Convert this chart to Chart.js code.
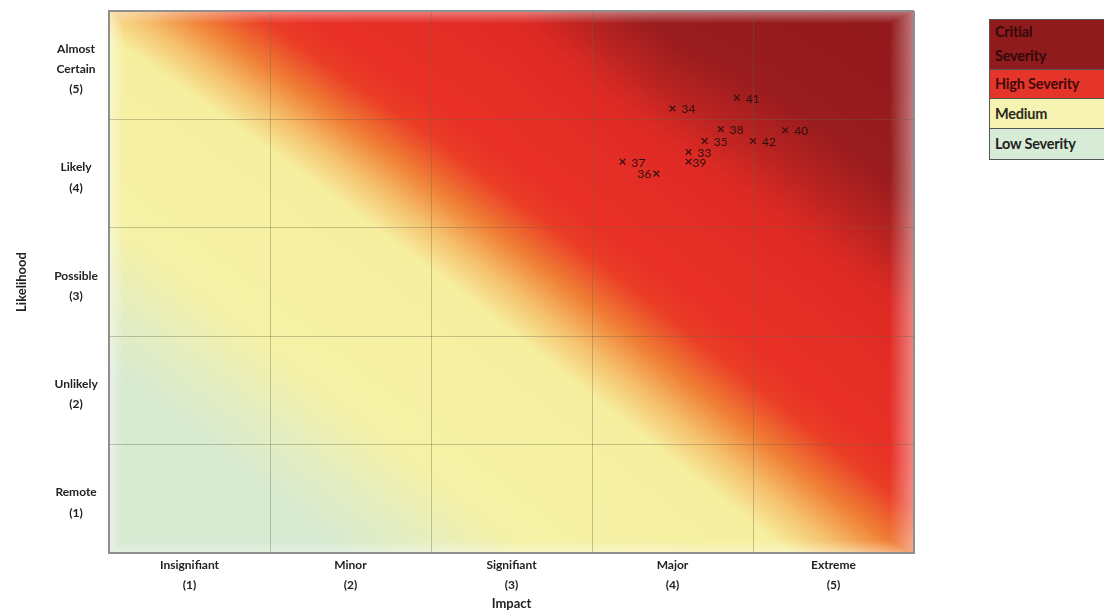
<!DOCTYPE html>
<html>
<head>
<meta charset="utf-8">
<script src="https://cdn.jsdelivr.net/npm/chart.js@4.4.1/dist/chart.umd.min.js"></script>
<style>
html,body{margin:0;padding:0;background:#fff;overflow:hidden;}
#wrap{position:relative;width:1104px;height:613px;overflow:hidden;}
#chart{position:absolute;left:0;top:0;}
#legend{position:absolute;left:989px;top:19px;width:130px;border:1.5px solid #555;font-family:Lato,"Open Sans",sans-serif;font-weight:bold;font-size:14.5px;letter-spacing:-0.2px;}
#legend .row{box-sizing:border-box;padding-left:5px;border-top:1.5px solid #555;}
#legend .row:first-child{border-top:none;}
</style>
</head>
<body>
<div id="wrap">
  <canvas id="chart" width="1104" height="613"></canvas>
  <div id="legend"></div>
</div>
<script>
// ---- data ----
const impactLabels = [['Insignifiant','(1)'],['Minor','(2)'],['Signifiant','(3)'],['Major','(4)'],['Extreme','(5)']];
const likelihoodLabels = [['Remote','(1)'],['Unlikely','(2)'],['Possible','(3)'],['Likely','(4)'],['Almost','Certain','(5)']];
const riskIds = ['41','34','38','40','35','42','33','37','39','36'];
const riskImpact = [4.40, 4.00, 4.30, 4.70, 4.20, 4.50, 4.10, 3.69, 4.10, 3.90];
const riskLikelihood = [4.70, 4.60, 4.41, 4.40, 4.30, 4.30, 4.20, 4.11, 4.11, 4.00];
// heat score per cell, rows = likelihood 1..5, columns = impact 1..5
const heatScore = [
  [1.9, 2.9, 3.9, 4.9, 5.9],
  [2.75, 3.75, 4.75, 5.75, 6.75],
  [3.6, 4.6, 5.6, 6.6, 7.6],
  [4.5, 5.5, 6.5, 7.5, 8.5],
  [5.45, 6.45, 7.35, 8.55, 9.35]
];
const legendNames = [['Critial','Severity'],['High Severity'],['Medium'],['Low Severity']];

// ---- styles ----
const labelSide = ['r','r','r','r','r','r','r','r','n','l'];
const legendColors = ['#8f1b1d','#e5352a','#f6f2b2','#d8ebd6'];
const legendTextColors = ['#320a0a','#420a0a','#2a2a1a','#222'];
const legendHeights = [49,29,30,31];
const rampStops = [
  [2.4,[214,233,209]],
  [3.0,[229,238,192]],
  [3.6,[245,241,166]],
  [5.2,[246,239,160]],
  [5.55,[245,192,108]],
  [5.9,[240,128,54]],
  [6.3,[234,62,38]],
  [6.6,[233,48,38]],
  [7.8,[222,42,36]],
  [8.3,[184,35,33]],
  [8.8,[154,28,30]],
  [10,[146,25,28]]
];

// legend
const lg = document.getElementById('legend');
legendNames.forEach((n,i)=>{
  const d = document.createElement('div');
  d.className='row';
  d.style.background = legendColors[i];
  d.style.color = legendTextColors[i];
  d.style.height = legendHeights[i]+'px';
  d.style.lineHeight = (n.length>1 ? 24 : legendHeights[i]-1)+'px';
  d.innerHTML = n.join('<br>');
  lg.appendChild(d);
});

function ramp(t){
  if (t<=rampStops[0][0]) return rampStops[0][1];
  for (let k=1;k<rampStops.length;k++){
    if (t<=rampStops[k][0]){
      const [t0,c0]=rampStops[k-1],[t1,c1]=rampStops[k];
      const f=(t-t0)/(t1-t0);
      return [c0[0]+(c1[0]-c0[0])*f,c0[1]+(c1[1]-c0[1])*f,c0[2]+(c1[2]-c0[2])*f];
    }
  }
  return rampStops[rampStops.length-1][1];
}
function sample(xv,yv){
  const fx=xv-1, fy=yv-1;
  const c0=Math.max(0,Math.min(3,Math.floor(fx))), r0=Math.max(0,Math.min(3,Math.floor(fy)));
  const u=fx-c0, w=fy-r0;
  const M=heatScore;
  return (1-u)*(1-w)*M[r0][c0]+u*(1-w)*M[r0][c0+1]+(1-u)*w*M[r0+1][c0]+u*w*M[r0+1][c0+1];
}

const heatPlugin = {
  id:'heat',
  beforeDraw(chart){
    const {ctx, chartArea:a, scales:{x,y}} = chart;
    const L=Math.round(a.left), T=Math.round(a.top);
    const w=Math.round(a.right)-L, h=Math.round(a.bottom)-T;
    const off=document.createElement('canvas'); off.width=w; off.height=h;
    const octx=off.getContext('2d');
    const img=octx.createImageData(w,h);
    const xs=[],ys=[];
    for(let i=0;i<w;i++) xs.push(x.getValueForPixel(L+i+0.5));
    for(let j=0;j<h;j++) ys.push(y.getValueForPixel(T+j+0.5));
    for(let j=0;j<h;j++){
      for(let i=0;i<w;i++){
        const c=ramp(sample(xs[i],ys[j]));
        let fa=0;
        const dr=w-1-i, dl=i, dt=j, db=h-1-j;
        if(dr<24) fa=Math.max(fa,0.42*(1-dr/24));
        if(dl<14) fa=Math.max(fa,0.45*(1-dl/14));
        if(dt<12) fa=Math.max(fa,0.38*(1-dt/12));
        if(db<12) fa=Math.max(fa,0.35*(1-db/12));
        const p=(j*w+i)*4;
        img.data[p]=c[0]+(255-c[0])*fa;
        img.data[p+1]=c[1]+(255-c[1])*fa;
        img.data[p+2]=c[2]+(255-c[2])*fa;
        img.data[p+3]=255;
      }
    }
    octx.putImageData(img,0,0);
    ctx.save();
    ctx.drawImage(off,L,T);
    ctx.restore();
  }
};

const labelPlugin = {
  id:'ptlabels',
  afterDatasetsDraw(chart){
    const {ctx}=chart;
    const meta=chart.getDatasetMeta(0);
    ctx.save();
    ctx.font='12px Lato, "Open Sans", sans-serif';
    ctx.fillStyle='#2b0f0f';
    ctx.textBaseline='middle';
    meta.data.forEach((el,i)=>{
      const s=labelSide[i];
      if(s==='l'){ctx.textAlign='right';ctx.fillText(riskIds[i],el.x-5,el.y+1);}
      else if(s==='n'){ctx.textAlign='left';ctx.fillText(riskIds[i],el.x+4,el.y+1);}
      else {ctx.textAlign='left';ctx.fillText(riskIds[i],el.x+9,el.y+1);}
    });
    ctx.restore();
  }
};

const halfTicks = [0.5,1,1.5,2,2.5,3,3.5,4,4.5,5,5.5];
function gridColor(c){
  const v=c.tick.value;
  if(v===0.5||v===5.5) return '#8f8f8f';
  return Number.isInteger(v)?'rgba(0,0,0,0)':'rgba(110,100,70,0.35)';
}
function gridWidth(c){
  const v=c.tick.value;
  return (v===0.5||v===5.5)?2:1;
}

Chart.defaults.font.family='Lato, "Open Sans", sans-serif';
Chart.defaults.color='#222';

new Chart(document.getElementById('chart'),{
  type:'scatter',
  data:{
    datasets:[{
      data: riskImpact.map((v,i)=>({x:v,y:riskLikelihood[i]})),
      pointStyle:'crossRot',
      pointRadius:4,
      pointHoverRadius:4,
      borderColor:'#3a1010',
      backgroundColor:'#3a1010',
      borderWidth:1.3
    }]
  },
  options:{
    responsive:false,
    animation:false,
    layout:{padding:{top:11,right:190,left:0,bottom:0}},
    plugins:{legend:{display:false},tooltip:{enabled:false}},
    scales:{
      x:{
        type:'linear',min:0.5,max:5.5,
        afterBuildTicks(s){s.ticks=halfTicks.map(v=>({value:v}));},
        afterFit(s){s.height=60;s.paddingLeft=0;s.paddingRight=0;},
        ticks:{autoSkip:false,maxRotation:0,padding:2,color:'#222',
          font:{size:12,weight:'bold',lineHeight:1.65},
          callback:(v)=>Number.isInteger(v)?impactLabels[v-1]:''},
        grid:{drawTicks:false,color:gridColor,lineWidth:gridWidth},
        border:{display:true,color:'#8f8f8f',width:2},
        title:{display:true,text:'Impact',color:'#222',font:{size:13,weight:'bold'},padding:{top:0,bottom:1}}
      },
      y:{
        type:'linear',min:0.5,max:5.5,
        afterBuildTicks(s){s.ticks=halfTicks.map(v=>({value:v}));},
        afterFit(s){s.width=109;s.paddingTop=0;s.paddingBottom=0;},
        ticks:{autoSkip:false,padding:11,crossAlign:'center',labelOffset:4,color:'#222',
          font:{size:12,weight:'bold',lineHeight:1.7},
          callback:(v)=>Number.isInteger(v)?likelihoodLabels[v-1]:''},
        grid:{drawTicks:false,color:gridColor,lineWidth:gridWidth},
        border:{display:true,color:'#8f8f8f',width:2},
        title:{display:true,text:'Likelihood',color:'#222',font:{size:13,weight:'bold'},padding:{top:14,bottom:0}}
      }
    }
  },
  plugins:[heatPlugin,labelPlugin]
});
</script>
</body>
</html>
